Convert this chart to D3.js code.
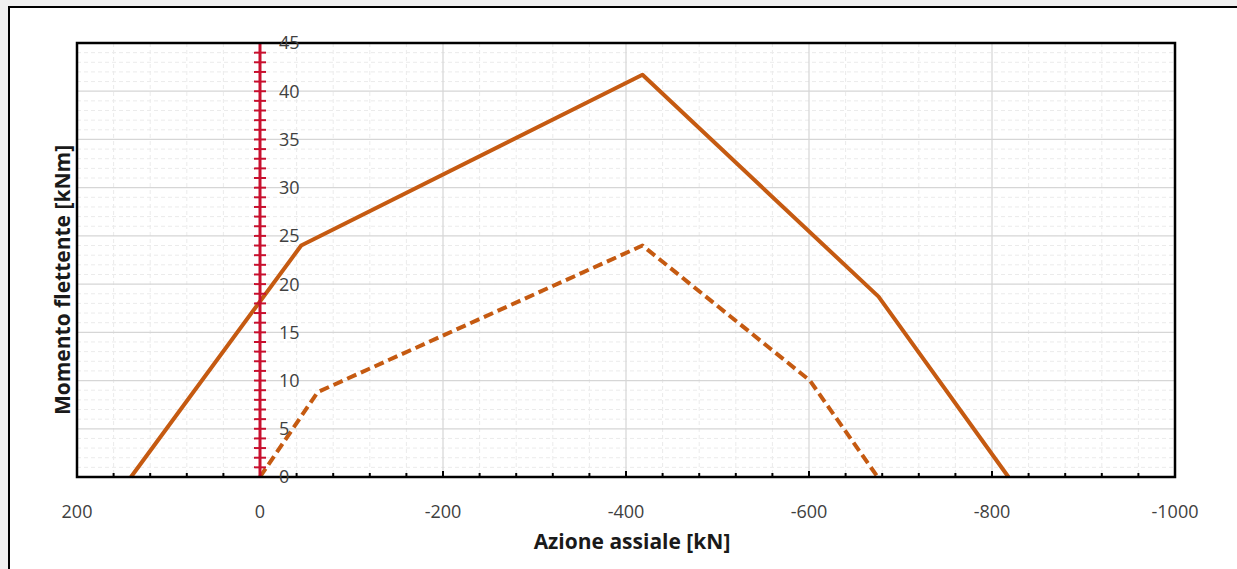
<!DOCTYPE html>
<html><head><meta charset="utf-8">
<script src="https://cdn.jsdelivr.net/npm/d3@7"></script>
<style>html,body{margin:0;padding:0;background:#fff;}svg{display:block;}</style>
</head><body>
<svg id="c" width="1237" height="569"></svg>
<script>
// Data
const solidN = [141, -45, -418, -676, -818];
const solidM = [0, 24.0, 41.7, 18.7, 0];
const dashedN = [0, -63, -418, -601, -675];
const dashedM = [0, 8.8, 24.0, 10.0, 0];
const xTickVals = [200, 0, -200, -400, -600, -800, -1000];
const yTickVals = [0, 5, 10, 15, 20, 25, 30, 35, 40, 45];
const xTitle = "Azione assiale [kN]";
const yTitle = "Momento flettente [kNm]";

const svg = d3.select("#c");
const L = 77, R = 1175, T = 43, B = 477;
const x = d3.scaleLinear().domain([200, -1000]).range([L, R]);
const y = d3.scaleLinear().domain([0, 45]).range([B, T]);
const font = "'Open Sans', sans-serif";

// outer frame
svg.append("rect").attr("x",0).attr("y",0).attr("width",1237).attr("height",569).attr("fill","#f0f0f0");
svg.append("rect").attr("x",9).attr("y",7).attr("width",1240).attr("height",580)
  .attr("fill","#fff").attr("stroke","#000").attr("stroke-width",2);

// minor grid
const g = svg.append("g");
g.selectAll(".mx").data(d3.range(200, -1001, -40).filter(v => v % 200 !== 0)).join("line")
  .attr("x1", d => x(d)).attr("x2", d => x(d)).attr("y1", T).attr("y2", B)
  .attr("stroke", "#ebebeb").attr("stroke-width", 1).attr("stroke-dasharray", "4,3");
g.selectAll(".my").data(d3.range(0, 46, 1).filter(v => v % 5 !== 0)).join("line")
  .attr("x1", L).attr("x2", R).attr("y1", d => y(d)).attr("y2", d => y(d))
  .attr("stroke", "#ebebeb").attr("stroke-width", 1).attr("stroke-dasharray", "4,3");
// major grid
g.selectAll(".Mx").data(xTickVals).join("line")
  .attr("x1", d => x(d)).attr("x2", d => x(d)).attr("y1", T).attr("y2", B)
  .attr("stroke", "#d6d6d6").attr("stroke-width", 1.2);
g.selectAll(".My").data(yTickVals).join("line")
  .attr("x1", L).attr("x2", R).attr("y1", d => y(d)).attr("y2", d => y(d))
  .attr("stroke", "#d6d6d6").attr("stroke-width", 1.2);

// x ticks (inside, pointing up)
g.selectAll(".tkm").data(d3.range(200, -1001, -40)).join("line")
  .attr("x1", d => x(d)).attr("x2", d => x(d))
  .attr("y1", B).attr("y2", d => d % 200 === 0 ? B - 6 : B - 4)
  .attr("stroke", "#000").attr("stroke-width", 2);

// series
const line = d3.line().x(d => x(d[0])).y(d => y(d[1]));
const color = "#c55a11";
svg.append("path").datum(dashedN.map((n, i) => [n, dashedM[i]]))
  .attr("d", line).attr("fill", "none").attr("stroke", color)
  .attr("stroke-width", 4).attr("stroke-dasharray", "10,5").attr("stroke-linejoin", "round");
svg.append("path").datum(solidN.map((n, i) => [n, solidM[i]]))
  .attr("d", line).attr("fill", "none").attr("stroke", color)
  .attr("stroke-width", 4).attr("stroke-linejoin", "round");

// red axis at N=0 with tick marks
const red = "#c8102e";
svg.append("line").attr("x1", x(0)).attr("x2", x(0)).attr("y1", T).attr("y2", B)
  .attr("stroke", red).attr("stroke-width", 3);
svg.selectAll(".rt").data(d3.range(0, 46, 1)).join("line")
  .attr("x1", x(0) - 6).attr("x2", x(0) + 6).attr("y1", d => y(d)).attr("y2", d => y(d))
  .attr("stroke", red).attr("stroke-width", 2);

// plot border
svg.append("rect").attr("x", L).attr("y", T).attr("width", R - L).attr("height", B - T)
  .attr("fill", "none").attr("stroke", "#000").attr("stroke-width", 2.5);

// y tick labels (right of red axis)
svg.selectAll(".yl").data(yTickVals).join("text")
  .attr("x", x(0) + 19).attr("y", d => y(d)).attr("dy", "0.36em")
  .attr("font-family", font).attr("font-size", 18).attr("fill", "#404040")
  .text(d => d);

// x tick labels
svg.selectAll(".xl").data(xTickVals).join("text")
  .attr("x", d => x(d)).attr("y", 512).attr("dy", "0.36em").attr("text-anchor", "middle")
  .attr("font-family", font).attr("font-size", 18).attr("fill", "#404040")
  .text(d => d);

// titles
svg.append("text").attr("x", 632).attr("y", 541).attr("dy", "0.36em")
  .attr("text-anchor", "middle").attr("font-family", font).attr("font-weight", "bold")
  .attr("font-size", 21).attr("fill", "#1a1a1a").text(xTitle);
svg.append("text").attr("transform", "translate(62,280) rotate(-90)").attr("dy", "0.36em")
  .attr("text-anchor", "middle").attr("font-family", font).attr("font-weight", "bold")
  .attr("font-size", 21).attr("fill", "#1a1a1a").text(yTitle);
</script>
</body></html>
